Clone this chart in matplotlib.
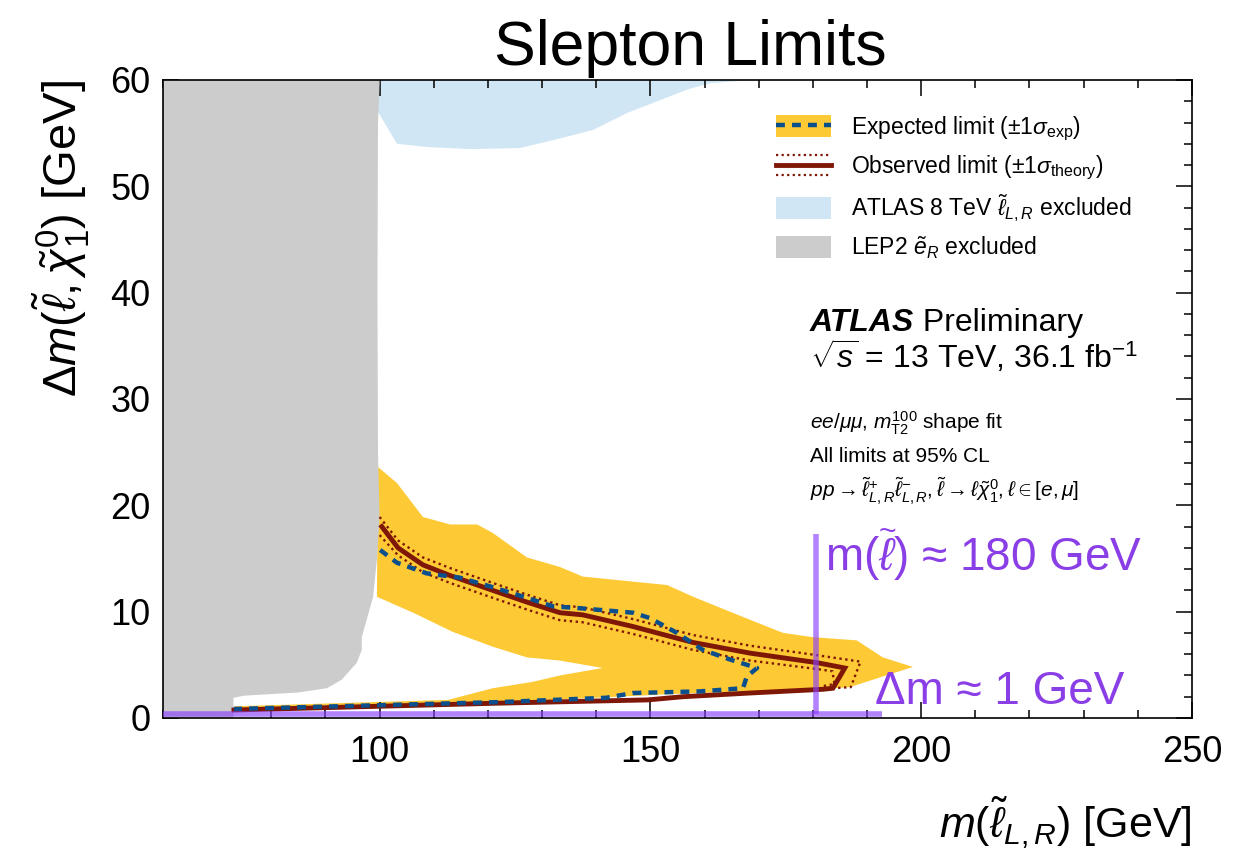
import numpy as np
import matplotlib
matplotlib.use('Agg')
import matplotlib.pyplot as plt
from matplotlib.patches import Patch
from matplotlib.lines import Line2D
from matplotlib.legend_handler import HandlerBase

plt.rcParams['font.family'] = ['Liberation Sans', 'DejaVu Sans']
plt.rcParams['mathtext.fontset'] = 'custom'
plt.rcParams['mathtext.rm'] = 'Liberation Sans'
plt.rcParams['mathtext.it'] = 'Liberation Sans:italic'
plt.rcParams['mathtext.bf'] = 'Liberation Sans:bold'
plt.rcParams['mathtext.bfit'] = 'Liberation Sans:italic:bold'

# ---- data (x: slepton mass [GeV], y: delta m [GeV]) ----
# LEP2 excluded region
lep_x = [60, 73, 73, 75, 85, 90.3, 93, 95.8, 96.7, 96.7, 98.8, 99.5, 100, 99.7, 99.6, 99.7, 100, 60]
lep_y = [0, 0, 1.9, 2.1, 2.4, 2.8, 3.6, 5.2, 6.4, 7.6, 11.4, 14.9, 18.9, 25, 40, 56, 60, 60]

# ATLAS 8 TeV excluded region
atlas8_x = [99.7, 99.7, 103.2, 108.7, 116.7, 125.9, 133.3, 139.4, 145.7, 151.8, 156.8, 161, 169]
atlas8_y = [60, 57.0, 54.0, 53.7, 53.5, 53.6, 54.5, 55.3, 56.9, 58.1, 59.1, 59.7, 60]

# expected +-1 sigma band (one closed outline)
band_x = [99.7, 103.2, 108.0, 113.0, 118.0, 120.9, 127.2, 133.3, 137.5, 153.1, 157.9, 167.1,
          174.5, 180.0, 188.1, 192.9, 198.5,
          192.9, 186.8, 180.8, 156.0, 131.5, 113.0, 90.3, 73.1,
          73.1, 112.6, 120.9, 128.3, 133.3, 141.2,
          133.3, 127.2, 120.9, 113.5, 106.2, 99.5]
band_y = [23.6, 22.1, 18.9, 18.2, 18.2, 17.4, 15.1, 14.2, 13.3, 12.5, 11.4, 9.5,
          8.0, 7.6, 7.3, 5.7, 4.8,
          3.9, 2.9, 2.7, 2.3, 1.7, 1.4, 1.2, 0.85,
          1.1, 1.7, 2.8, 3.4, 4.0, 4.7,
          5.4, 5.7, 6.7, 8.1, 9.9, 11.4]

# expected limit
exp_x = [100.1, 103.2, 108.7, 114.8, 120.9, 127.2, 132.0, 137.5, 146.8, 149.9, 154.9, 159.7,
         164.7, 169.7, 167.8, 167.1, 159.1, 146.8, 141.8, 122.4, 99.7, 73.1]
exp_y = [15.8, 14.6, 13.6, 13.2, 12.3, 11.3, 10.5, 10.3, 9.9, 9.4, 8.0, 6.4,
         5.5, 4.7, 3.9, 2.8, 2.5, 2.35, 1.9, 1.5, 1.2, 0.85]

# observed limit
obs_x = [100.4, 103.4, 108.0, 113.0, 120.9, 127.2, 133.3, 137.5, 146.8, 157.9, 168.4, 180.8,
         185.9, 183.7, 181.9, 168.4, 156.0, 149.5, 122.4, 99.7, 73.1]
obs_y = [18.0, 16.0, 14.4, 13.4, 12.0, 10.9, 9.9, 9.7, 8.6, 7.1, 6.1, 5.2,
         4.7, 2.8, 2.7, 2.35, 2.0, 1.7, 1.4, 1.1, 0.75]

# observed +-1 sigma theory
obs_up_x = [100.0, 103.4, 108.0, 113.0, 120.9, 127.2, 133.3, 137.5, 146.8, 157.9, 168.4, 180.8,
            188.8, 187.0, 181.9]
obs_up_y = [18.9, 16.7, 15.1, 14.1, 12.7, 11.6, 10.6, 10.4, 9.3, 7.8, 6.8, 5.9,
            5.3, 2.9, 2.75]
obs_dn_x = [100.0, 103.4, 108.0, 113.0, 120.9, 127.2, 133.3, 137.5, 146.8, 157.9, 168.4, 180.8,
            183.6, 184.0, 181.9]
obs_dn_y = [17.2, 15.3, 13.7, 12.7, 11.3, 10.2, 9.2, 9.0, 7.9, 6.4, 5.4, 4.6,
            4.4, 3.2, 3.0]

# highlight lines
hline_x = [60, 192.7]
hline_y = [0.35, 0.35]
vline_x = [180.5, 180.5]
vline_y = [0.35, 17.3]

yellow = '#fdc934'
lblue = '#d1e6f5'
grey = '#cccccc'
obs_col = '#7e1705'
exp_col = '#0b4f8c'
purple = '#8a3ffc'
ptext = '#8a3ee6'

fig = plt.figure(figsize=(12.33, 8.51), dpi=100)
ax = fig.add_axes([0.1322, 0.1563, 0.8345, 0.7497])

ax.fill(band_x, band_y, color=yellow, lw=0, zorder=1)
ax.fill(atlas8_x, atlas8_y, color=lblue, lw=0, zorder=1)
ax.fill(lep_x, lep_y, color=grey, lw=0, zorder=2)

ax.plot(obs_up_x, obs_up_y, color=obs_col, lw=1.7, ls=(0, (1, 1.5)), zorder=3)
ax.plot(obs_dn_x, obs_dn_y, color=obs_col, lw=1.7, ls=(0, (1, 1.5)), zorder=3)
ax.plot(obs_x, obs_y, color=obs_col, lw=3.5, zorder=4, solid_joinstyle='miter')
ax.plot(exp_x, exp_y, color=exp_col, lw=3.2, dashes=(2, 1.6), zorder=5)

ax.plot(hline_x, hline_y, color=purple, lw=4, alpha=0.65, zorder=6, solid_capstyle='butt')
ax.plot(vline_x, vline_y, color=purple, lw=4, alpha=0.65, zorder=6, solid_capstyle='butt')
ax.text(182.2, 15.3, r'm($\widetilde{\ell}$) ≈ 180 GeV', color=ptext, fontsize=33,
        va='center', ha='left', zorder=7)
ax.text(191.5, 2.45, 'Δm ≈ 1 GeV', color=ptext, fontsize=33, va='center', ha='left', zorder=7)

ax.set_xlim(60, 250)
ax.set_ylim(0, 60)
ax.set_xticks([100, 150, 200, 250])
ax.set_xticks(np.arange(60, 251, 10), minor=True)
ax.set_yticks(np.arange(0, 61, 10))
ax.set_yticks(np.arange(0, 61, 2), minor=True)
ax.tick_params(which='both', direction='in', top=True, right=True, width=1.1)
ax.tick_params(which='major', length=11.5)
ax.tick_params(which='minor', length=6)
ax.tick_params(axis='x', labelsize=26, pad=12)
ax.tick_params(axis='y', labelsize=26, pad=9)
for s in ax.spines.values():
    s.set_linewidth(1.2)

ax.set_xlabel(r'$m(\tilde{\ell}_{L,R})$ [GeV]', fontsize=31, loc='right', labelpad=18)
ax.set_ylabel(r'$\Delta m(\tilde{\ell}, \tilde{\chi}_1^0)$ [GeV]', fontsize=34, loc='top', labelpad=13)
ax.set_title('Slepton Limits', fontsize=45, pad=11, x=0.512)


class HandlerObs(HandlerBase):
    def create_artists(self, legend, orig_handle, xdescent, ydescent, width, height, fontsize, trans):
        yc = height / 2 - ydescent
        off = height * 0.45
        arts = []
        for dy, ls, lw in [(0, '-', 3.5), (off, (0, (1, 1.5)), 1.6), (-off, (0, (1, 1.5)), 1.6)]:
            ln = Line2D([-xdescent, -xdescent + width], [yc + dy, yc + dy], color=obs_col, lw=lw, ls=ls)
            ln.set_transform(trans)
            arts.append(ln)
        return arts


obs_handle = Line2D([], [], color=obs_col)
handles = [(Patch(facecolor=yellow, lw=0), Line2D([], [], color=exp_col, lw=3.2, dashes=(2, 1.6))),
           obs_handle,
           Patch(facecolor=lblue, lw=0),
           Patch(facecolor=grey, lw=0)]
labels = [r'Expected limit $(\pm1\sigma_{\mathrm{exp}})$',
          r'Observed limit $(\pm1\sigma_{\mathrm{theory}})$',
          r'ATLAS 8 TeV $\tilde{\ell}_{L,R}$ excluded',
          r'LEP2 $\tilde{e}_R$ excluded']
ax.legend(handles, labels, handler_map={obs_handle: HandlerObs()}, loc='upper left',
          bbox_to_anchor=(0.576, 0.978), frameon=False, fontsize=16.5, handlelength=2.4,
          handleheight=1.1, handletextpad=0.85, labelspacing=0.45)

t1 = ax.text(179.5, 37.1, 'ATLAS', fontsize=23, fontweight='bold', fontstyle='italic', va='center')
ax.annotate(' Preliminary', xy=(1, 0.5), xycoords=t1, fontsize=23, va='center')
ax.text(179.5, 34.0, r'$\sqrt{s}$ = 13 TeV, 36.1 fb$^{-1}$', fontsize=23, va='center')
ax.text(179.5, 27.7, r'$ee/\mu\mu$, $m_{\mathrm{T2}}^{100}$ shape fit', fontsize=15, va='center')
ax.text(179.5, 24.6, 'All limits at 95% CL', fontsize=15, va='center')
ax.text(179.5, 21.3, r'$pp \rightarrow \tilde{\ell}^{+}_{L,R}\tilde{\ell}^{-}_{L,R}, \tilde{\ell} \rightarrow \ell\tilde{\chi}^{0}_{1}, \ell \in [e,\mu]$',
        fontsize=15, va='center')

fig.savefig('out.png', dpi=100)
